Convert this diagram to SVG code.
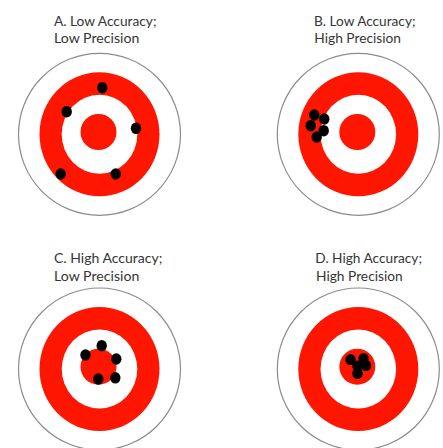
<svg xmlns="http://www.w3.org/2000/svg" xmlns:xlink="http://www.w3.org/1999/xlink" width="443" height="448" viewBox="0 0 443 448">
  <style>
    .lbl { font-family: Lato, "Open Sans", "Liberation Sans", sans-serif; font-size: 14px; fill: #353535; }
    .ring-out { fill: #ffffff; stroke: #8c8c8c; stroke-width: 1.2; }
    .red { fill: #fe1500; }
    .wht { fill: #ffffff; }
    .dot { fill: #000000; }
  </style>
  <defs>
    <filter id="soft" x="-20%" y="-20%" width="140%" height="140%">
      <feGaussianBlur stdDeviation="0.6"/>
    </filter>
    <g id="target">
      <circle class="ring-out" cx="0" cy="0" r="81"/>
      <g filter="url(#soft)">
        <ellipse class="red" cx="0" cy="0" rx="60" ry="62"/>
        <ellipse class="wht" cx="0" cy="0" rx="37.8" ry="39.5"/>
        <ellipse class="red" cx="-1" cy="-2.3" rx="18" ry="18"/>
      </g>
    </g>
  </defs>
  <rect width="443" height="448" fill="#ffffff"/>

  <g id="panel-a">
    <text class="lbl" x="54" y="25.5" textLength="102.5" lengthAdjust="spacingAndGlyphs">A. Low Accuracy;</text>
    <text class="lbl" x="54" y="43" textLength="85.3" lengthAdjust="spacingAndGlyphs">Low Precision</text>
    <use xlink:href="#target" href="#target" transform="translate(99.5,134.3)"/>
    <g filter="url(#soft)">
      <ellipse class="dot" cx="102.3" cy="87.7" rx="5.2" ry="5.8"/>
      <ellipse class="dot" cx="66.7" cy="111.7" rx="5.2" ry="5.8"/>
      <ellipse class="dot" cx="136" cy="128.3" rx="5.2" ry="5.8"/>
      <ellipse class="dot" cx="60.7" cy="174" rx="5.2" ry="5.8"/>
      <ellipse class="dot" cx="115.7" cy="174" rx="5.2" ry="5.8"/>
    </g>
  </g>

  <g id="panel-b">
    <text class="lbl" x="314" y="25.5" textLength="101.5" lengthAdjust="spacingAndGlyphs">B. Low Accuracy;</text>
    <text class="lbl" x="314.3" y="43" textLength="86.7" lengthAdjust="spacingAndGlyphs">High Precision</text>
    <use xlink:href="#target" href="#target" transform="translate(358.3,134.3)"/>
    <g filter="url(#soft)">
      <ellipse class="dot" cx="314.3" cy="115" rx="5.2" ry="5.8"/>
      <ellipse class="dot" cx="324.3" cy="119" rx="5.2" ry="5.8"/>
      <ellipse class="dot" cx="310.7" cy="125.7" rx="5.2" ry="5.8"/>
      <ellipse class="dot" cx="323.7" cy="130.7" rx="5.2" ry="5.8"/>
      <ellipse class="dot" cx="316.7" cy="137" rx="5.2" ry="5.8"/>
    </g>
  </g>

  <g id="panel-c">
    <text class="lbl" x="54" y="263" textLength="108.3" lengthAdjust="spacingAndGlyphs">C. High Accuracy;</text>
    <text class="lbl" x="54" y="280.7" textLength="85.3" lengthAdjust="spacingAndGlyphs">Low Precision</text>
    <use xlink:href="#target" href="#target" transform="translate(99.5,369)"/>
    <g filter="url(#soft)">
      <ellipse class="dot" cx="101.7" cy="345.7" rx="5.2" ry="5.8"/>
      <ellipse class="dot" cx="85.5" cy="355" rx="5.2" ry="5.8"/>
      <ellipse class="dot" cx="116.3" cy="359" rx="5.2" ry="5.8"/>
      <ellipse class="dot" cx="98.3" cy="379" rx="5.2" ry="5.8"/>
      <ellipse class="dot" cx="115.3" cy="377.8" rx="5.2" ry="5.8"/>
    </g>
  </g>

  <g id="panel-d">
    <text class="lbl" x="315.3" y="263" textLength="106.7" lengthAdjust="spacingAndGlyphs">D. High Accuracy;</text>
    <text class="lbl" x="316" y="280.7" textLength="86.7" lengthAdjust="spacingAndGlyphs">High Precision</text>
    <use xlink:href="#target" href="#target" transform="translate(358.3,369)"/>
    <g filter="url(#soft)">
      <ellipse class="dot" cx="350.5" cy="359.5" rx="5.2" ry="5.6"/>
      <ellipse class="dot" cx="363.5" cy="358.5" rx="5.2" ry="5.6"/>
      <ellipse class="dot" cx="366" cy="365.5" rx="5.2" ry="5.6"/>
      <ellipse class="dot" cx="357.5" cy="366" rx="5.2" ry="5.6"/>
      <ellipse class="dot" cx="357.5" cy="373.5" rx="5.2" ry="5.6"/>
    </g>
  </g>
</svg>
